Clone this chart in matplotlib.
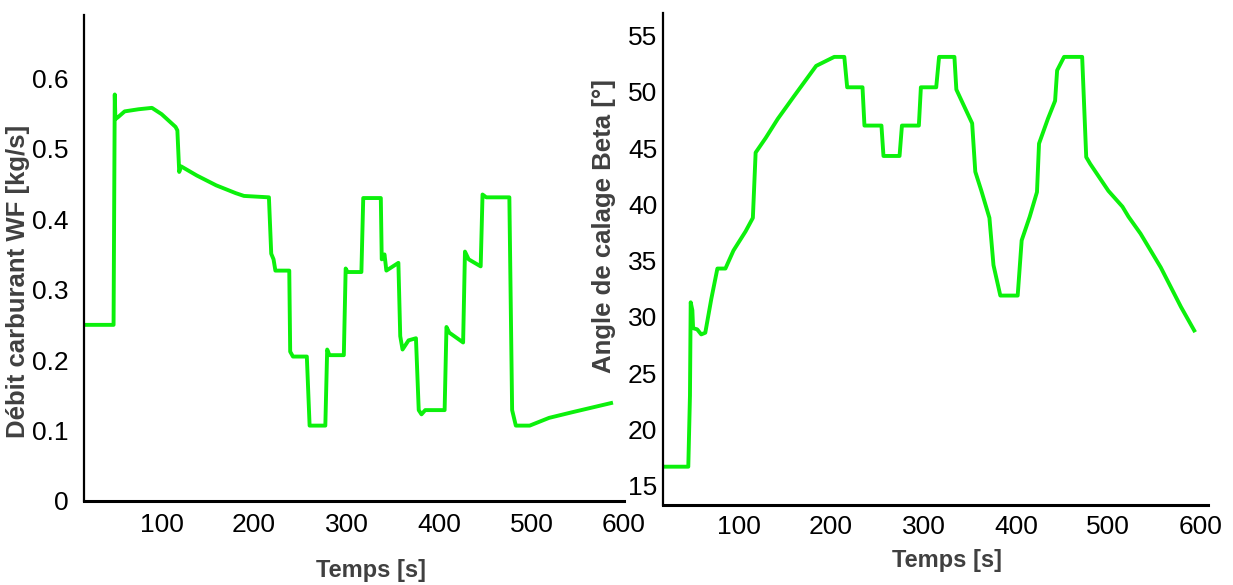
import matplotlib.pyplot as plt

# Débit carburant WF [kg/s] en fonction du temps
t_wf = [17, 48, 49.3, 50, 53, 60, 75, 89.5, 100, 115, 117, 119, 121, 138, 159, 180, 189, 216,
        218.5, 221, 223, 238, 239, 242, 257, 260, 277, 279, 281.5, 297, 299, 301, 316, 318,
        337, 338, 341, 343, 356, 358, 360.5, 367, 375, 378, 381, 385, 406, 408, 411, 426, 428,
        432, 445, 447, 451, 476, 479, 483, 498, 519, 544, 586]
wf = [0.25, 0.25, 0.577, 0.542, 0.545, 0.553, 0.556, 0.558, 0.549, 0.531, 0.526, 0.467, 0.475,
      0.462, 0.448, 0.437, 0.433, 0.431, 0.351, 0.343, 0.327, 0.327, 0.212, 0.205, 0.205,
      0.107, 0.107, 0.215, 0.207, 0.207, 0.330, 0.325, 0.325, 0.43, 0.43, 0.343, 0.350,
      0.327, 0.338, 0.234, 0.215, 0.228, 0.231, 0.129, 0.123, 0.129, 0.129, 0.247, 0.239,
      0.225, 0.354, 0.343, 0.333, 0.435, 0.431, 0.431, 0.129, 0.107, 0.107, 0.118, 0.126,
      0.139]

# Angle de calage Beta [°] en fonction du temps
t_beta = [18.8, 45.4, 47.2, 48, 49.8, 50.6, 55, 59.4, 63.8, 70.3, 76.9, 85.6, 94.3, 107.4,
          115.3, 118.3, 129.2, 142.3, 159.8, 183.8, 203.4, 214.3, 217.4, 234, 236.1, 254.5,
          256.7, 274.1, 276.7, 295, 297.2, 313.8, 316.9, 333.5, 335.6, 343, 352.7, 356.1,
          362.7, 371.4, 375.8, 383.2, 402, 406.3, 415, 422.9, 425.1, 434.7, 442.5, 444.7,
          452.2, 471.8, 476.2, 480.5, 500.2, 515.4, 522, 535, 556.9, 578.7, 593.1]
beta = [16.7, 16.7, 23, 31.3, 30.6, 29.0, 28.9, 28.45, 28.6, 31.6, 34.3, 34.3, 35.9, 37.6,
        38.8, 44.6, 45.9, 47.6, 49.6, 52.3, 53.1, 53.1, 50.4, 50.4, 47.0, 47.0, 44.3, 44.3,
        47.0, 47.0, 50.4, 50.4, 53.1, 53.1, 50.2, 48.9, 47.2, 42.9, 41.2, 38.8, 34.6, 31.9,
        31.9, 36.8, 38.9, 41.1, 45.4, 47.6, 49.2, 51.9, 53.1, 53.1, 44.2, 43.6, 41.2, 39.8,
        38.9, 37.4, 34.4, 30.9, 28.8]

wf_ticks = [0, 0.1, 0.2, 0.3, 0.4, 0.5, 0.6]
wf_labels = ["0", "0.1", "0.2", "0.3", "0.4", "0.5", "0.6"]
beta_ticks = [15, 20, 25, 30, 35, 40, 45, 50, 55]
t_ticks = [100, 200, 300, 400, 500, 600]

plt.rcParams['font.family'] = ['Liberation Sans', 'DejaVu Sans']

green = '#0cf00c'
lab_color = '#404040'

fig = plt.figure(figsize=(12.33, 5.85), dpi=100)
ax1 = fig.add_axes([0.0681, 0.1436, 0.438, 0.831])
ax2 = fig.add_axes([0.5377, 0.1368, 0.442, 0.841])

ax1.plot(t_wf, wf, color=green, lw=2.8)
ax1.set_xlim(16, 600)
ax1.set_ylim(0, 0.69)
ax1.set_yticks(wf_ticks)
ax1.set_yticklabels(wf_labels)
ax1.set_xticks(t_ticks)
ax1.tick_params(axis='y', length=0, pad=11, labelsize=19)
ax1.tick_params(axis='x', length=0, pad=9, labelsize=19)
ax1.set_ylabel("Débit carburant WF [kg/s]", fontsize=18.5, fontweight='bold', color=lab_color)
ax1.yaxis.set_label_coords(-0.1, 0.451)
ax1.set_xlabel("Temps [s]", fontsize=17, fontweight='bold', color=lab_color)
ax1.xaxis.set_label_coords(0.531, -0.119)

ax2.plot(t_beta, beta, color=green, lw=2.8)
ax2.set_xlim(18, 608)
ax2.set_ylim(13.3, 57)
ax2.set_yticks(beta_ticks)
ax2.set_xticks(t_ticks)
ax2.tick_params(axis='y', length=0, pad=4, labelsize=19)
ax2.tick_params(axis='x', length=0, pad=7, labelsize=19)
ax2.set_ylabel("Angle de calage Beta [°]", fontsize=18.5, fontweight='bold', color=lab_color)
ax2.yaxis.set_label_coords(-0.086, 0.567)
ax2.set_xlabel("Temps [s]", fontsize=17, fontweight='bold', color=lab_color)
ax2.xaxis.set_label_coords(0.521, -0.09)

for ax in (ax1, ax2):
    ax.spines['top'].set_visible(False)
    ax.spines['right'].set_visible(False)
    ax.spines['left'].set_linewidth(1.6)
    ax.spines['bottom'].set_linewidth(2.2)
    ax.set_facecolor('none')

fig.savefig("out.png", dpi=100)
